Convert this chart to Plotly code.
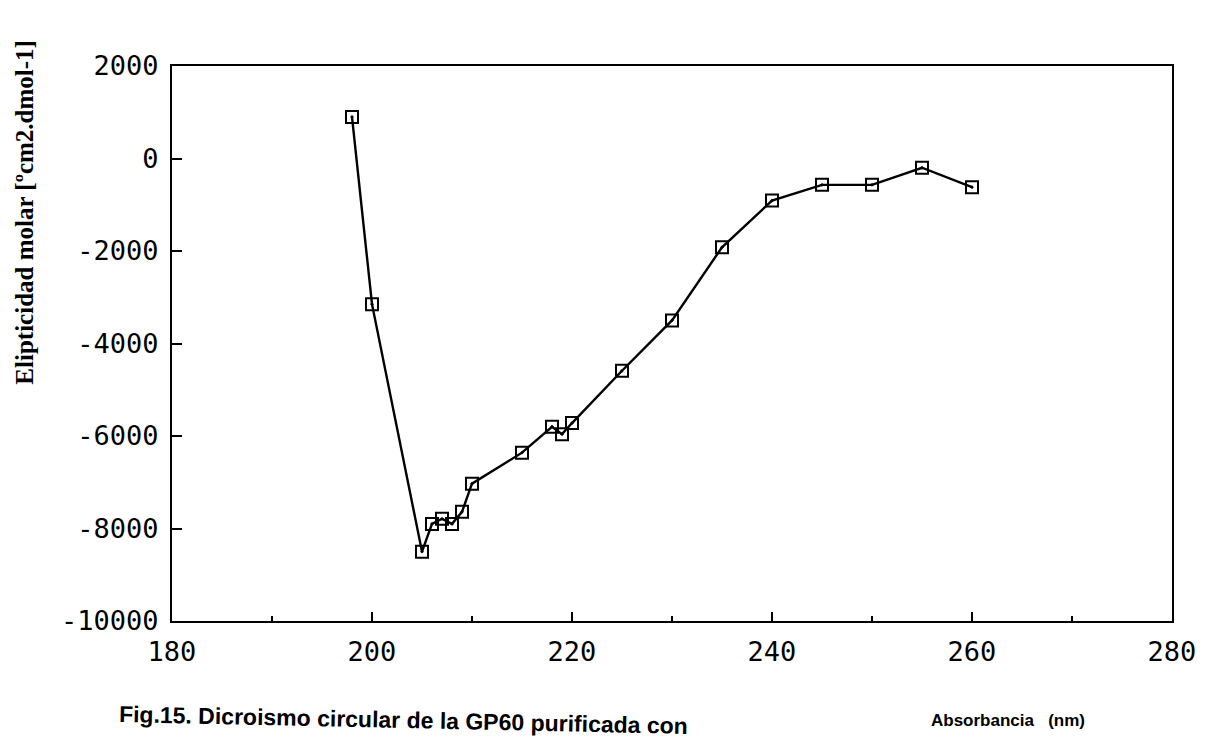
import plotly.graph_objects as go

# Wavelength (nm) and molar ellipticity (rotation-corrected)
wavelength = [198, 200, 205, 206, 207, 208, 209, 210, 215, 218, 219, 220,
              225, 230, 235, 240, 245, 250, 255, 260]
ellipticity = [900, -3150, -8500, -7900, -7790, -7900, -7640, -7030, -6360,
               -5800, -5960, -5720, -4590, -3500, -1920, -910, -570, -570,
               -200, -620]

x_ticks = [180, 200, 220, 240, 260, 280]
y_ticks = [2000, 0, -2000, -4000, -6000, -8000, -10000]

W, H = 1208, 743
L, R, T, B = 172, 25, 66, 122
pw, ph = W - L - R, H - T - B

def px(x):
    return (x - L) / pw

def py(y):
    return (H - B - y) / ph

fig = go.Figure()
fig.add_trace(go.Scatter(
    x=wavelength, y=ellipticity, mode="lines+markers",
    line=dict(color="black", width=2.4),
    marker=dict(symbol="square-open-dot", size=12, color="black",
                line=dict(width=2, color="black")),
    showlegend=False, hoverinfo="x+y"))

tick_font = dict(family="DejaVu Sans Mono", size=27, color="black")

fig.update_layout(
    width=W, height=H,
    margin=dict(l=L, r=R, t=T, b=B),
    paper_bgcolor="white", plot_bgcolor="white",
    xaxis=dict(range=[180, 280], tickvals=x_ticks,
               ticktext=[str(v) for v in x_ticks],
               showgrid=False, zeroline=False,
               showline=True, linecolor="black", linewidth=2, mirror=True,
               ticks="inside", ticklen=9, tickwidth=2, tickcolor="black",
               minor=dict(tickvals=[190, 210, 230, 250, 270], ticks="inside",
                          ticklen=5, tickwidth=2, tickcolor="black",
                          showgrid=False),
               tickfont=tick_font, ticklabelstandoff=6,
               ticklabeloverflow="allow"),
    yaxis=dict(range=[-10000, 2000], tickvals=y_ticks,
               ticktext=[str(v) for v in y_ticks],
               showgrid=False, zeroline=False,
               showline=True, linecolor="black", linewidth=2, mirror=True,
               ticks="inside", ticklen=10, tickwidth=2, tickcolor="black",
               tickfont=tick_font, ticklabelstandoff=6,
               ticklabeloverflow="allow"),
    annotations=[
        dict(text="<b>Elipticidad molar [ºcm2.dmol-1]</b>", textangle=-90,
             xref="paper", yref="paper", x=px(22), y=py(212),
             xanchor="center", yanchor="middle", showarrow=False,
             font=dict(family="Liberation Serif", size=25, color="black")),
        dict(text="<b>Absorbancia</b>   <b>(nm)</b>",
             xref="paper", yref="paper", x=px(1017), y=py(720),
             xanchor="center", yanchor="middle", showarrow=False,
             font=dict(family="Liberation Sans", size=17, color="black")),
        dict(text="<b>Fig.15. Dicroismo circular de la GP60 purificada con</b>",
             textangle=1.2,
             xref="paper", yref="paper", x=px(116), y=py(741),
             xanchor="left", yanchor="bottom", showarrow=False,
             font=dict(family="Liberation Sans", size=23, color="black")),
    ],
)

fig.write_html("out.html")
